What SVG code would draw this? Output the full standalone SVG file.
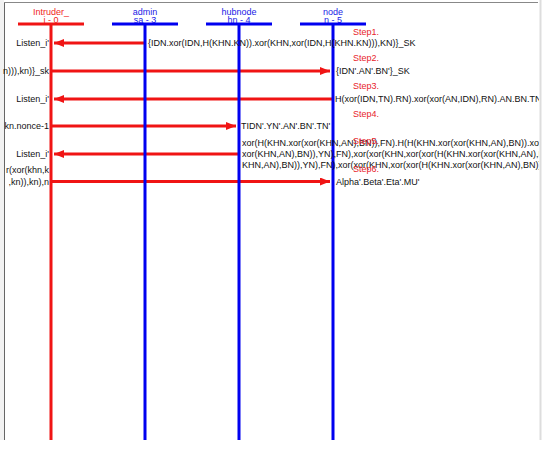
<svg xmlns="http://www.w3.org/2000/svg" width="547" height="456" viewBox="0 0 547 456">
<style>
text{font-family:"Liberation Sans",Arial,sans-serif;font-size:9px}
.hr{fill:#f01c1c;text-anchor:middle}
.hb{fill:#1a1ae6;text-anchor:middle}
.msg{fill:#111}
.lft{fill:#111;text-anchor:end}
.step{fill:#e8232b}
.conn{stroke:#f01414;stroke-width:3;fill:none}
.barR{stroke:#f01414;stroke-width:3}
.barB{stroke:#0000f0;stroke-width:3}
</style>
<defs>
<marker id="ah" viewBox="0 0 10 8" markerWidth="10" markerHeight="8" refX="10" refY="4" orient="auto" markerUnits="userSpaceOnUse">
<path d="M0,0 L10,4 L0,8 z" fill="#f01414"/>
</marker>
<clipPath id="clip"><rect x="0" y="0" width="539" height="456"/></clipPath>
</defs>
<rect width="547" height="456" fill="#fff"/>
<g id="frame">
<rect x="0" y="0" width="4" height="440" fill="#f2f2f2"/>
<line x1="4.5" y1="2" x2="4.5" y2="440" stroke="#666" stroke-width="1"/>
<line x1="4" y1="2.5" x2="538" y2="2.5" stroke="#888" stroke-width="1"/>
<line x1="540.5" y1="0" x2="540.5" y2="440" stroke="#ddd" stroke-width="2"/>
</g>
<g id="connectors">
<line class="conn" x1="145" y1="43" x2="54" y2="43" marker-end="url(#ah)"/>
<line class="conn" x1="51" y1="71" x2="330" y2="71" marker-end="url(#ah)"/>
<line class="conn" x1="333" y1="99" x2="54" y2="99" marker-end="url(#ah)"/>
<line class="conn" x1="51" y1="126" x2="236" y2="126" marker-end="url(#ah)"/>
<line class="conn" x1="239" y1="154" x2="54" y2="154" marker-end="url(#ah)"/>
<line class="conn" x1="51" y1="181.5" x2="330" y2="181.5" marker-end="url(#ah)"/>
</g>
<g id="intruder">
<text class="hr" x="51" y="15">Intruder_</text>
<text class="hr" x="51" y="22.5">i - 0</text>
<line class="barR" x1="18" y1="24" x2="84" y2="24"/>
<line class="barR" x1="51" y1="24" x2="51" y2="440"/>
</g>
<g id="admin">
<text class="hb" x="145" y="15">admin</text>
<text class="hb" x="145" y="22.5">sa - 3</text>
<line class="barB" x1="112" y1="24" x2="178" y2="24"/>
<line class="barB" x1="145" y1="24" x2="145" y2="440"/>
</g>
<g id="hubnode">
<text class="hb" x="239" y="15">hubnode</text>
<text class="hb" x="239" y="22.5">hn - 4</text>
<line class="barB" x1="206" y1="24" x2="272" y2="24"/>
<line class="barB" x1="239" y1="24" x2="239" y2="440"/>
</g>
<g id="node">
<text class="hb" x="333" y="15">node</text>
<text class="hb" x="333" y="22.5">n - 5</text>
<line class="barB" x1="300" y1="24" x2="366" y2="24"/>
<line class="barB" x1="333" y1="24" x2="333" y2="440"/>
</g>
<g id="labels" clip-path="url(#clip)">
<text class="lft" x="49" y="46.3">Listen_i'</text>
<text class="lft" x="49" y="74.3">n))),kn)}_sk</text>
<text class="lft" x="49" y="102.3">Listen_i'</text>
<text class="lft" x="49" y="129.3">kn.nonce-1</text>
<text class="lft" x="49" y="157.3">Listen_i'</text>
<text class="lft" x="49" y="173.3">r(xor(khn,k</text>
<text class="lft" x="49" y="185">,kn)),kn),n</text>
<text class="msg" x="148" y="46.3">{IDN.xor(IDN,H(KHN.KN)).xor(KHN,xor(IDN,H(KHN.KN))),KN)}_SK</text>
<text class="msg" x="336" y="74.3">{IDN'.AN'.BN'}_SK</text>
<text class="msg" x="335" y="102.3">H(xor(IDN,TN).RN).xor(xor(AN,IDN),RN).AN.BN.TN</text>
<text class="msg" x="241" y="129.3">TIDN'.YN'.AN'.BN'.TN'</text>
<text class="msg" x="242" y="146">xor(H(KHN.xor(xor(KHN,AN),BN)),FN).H(H(KHN.xor(xor(KHN,AN),BN)).xor</text>
<text class="msg" x="242" y="157">xor(KHN,AN),BN)),YN),FN),xor(xor(KHN,xor(xor(H(KHN.xor(xor(KHN,AN),E</text>
<text class="msg" x="242" y="168.3">KHN,AN),BN)),YN),FN),xor(xor(KHN,xor(xor(H(KHN.xor(xor(KHN,AN),BN)).</text>
<text class="msg" x="336" y="184.5">Alpha'.Beta'.Eta'.MU'</text>
<text class="step" x="353" y="34.5">Step1.</text>
<text class="step" x="353" y="61">Step2.</text>
<text class="step" x="353" y="88.5">Step3.</text>
<text class="step" x="353" y="116.5">Step4.</text>
<text class="step" x="353" y="143.5">Step5.</text>
<text class="step" x="353" y="172">Step6.</text>
</g>
</svg>
